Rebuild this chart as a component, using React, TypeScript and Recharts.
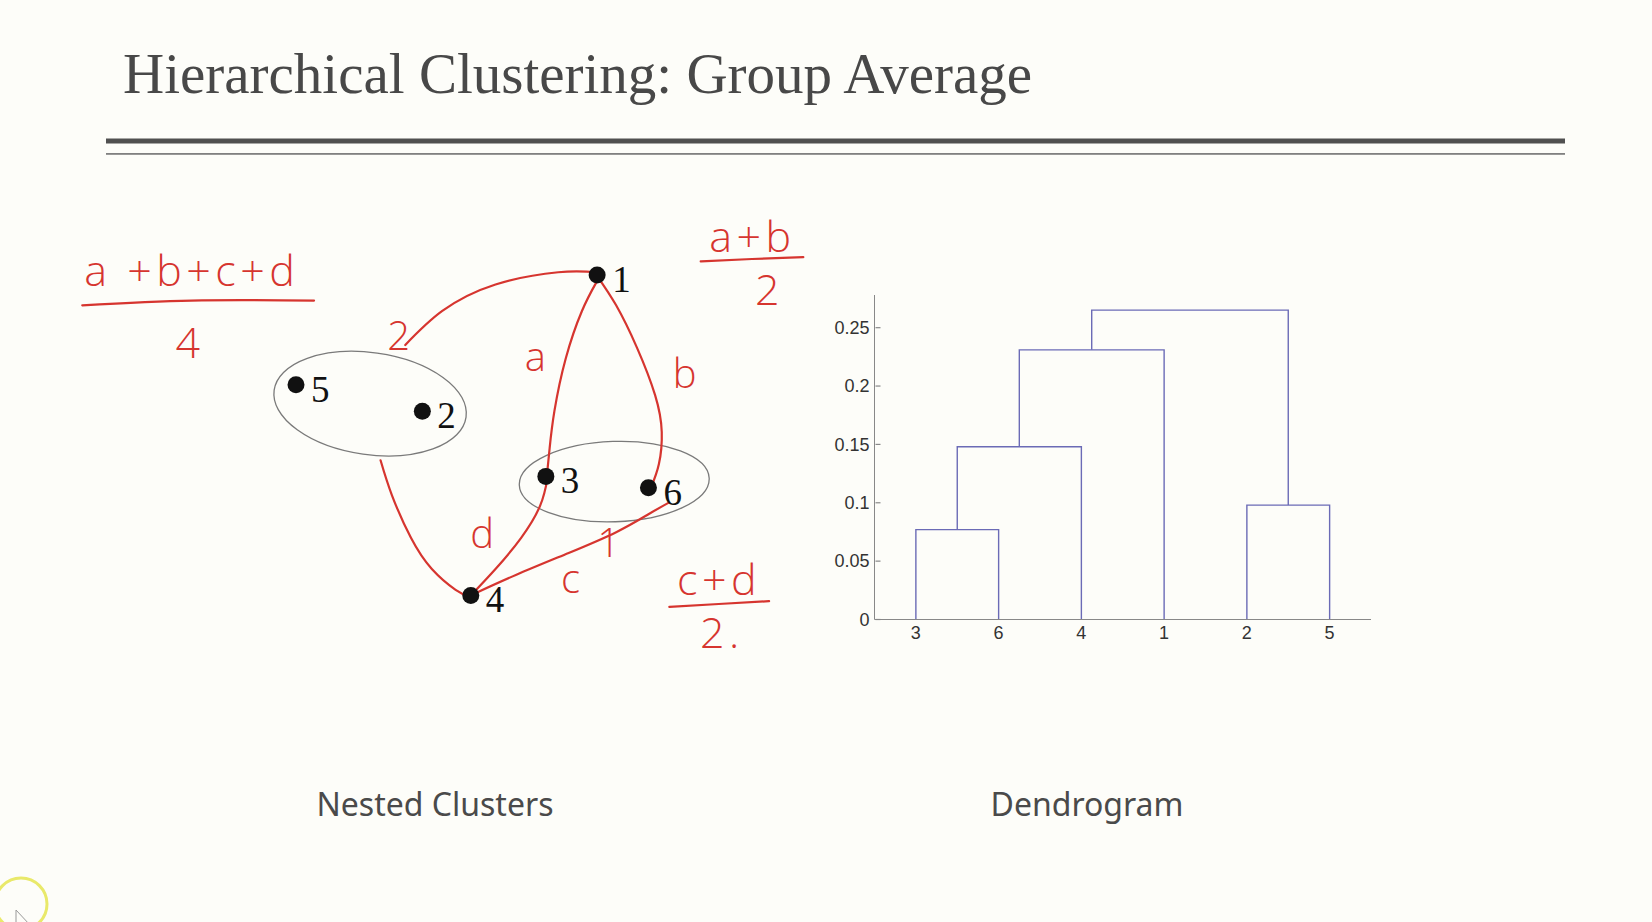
import React from 'react';
import { ComposedChart, LineChart, Line, Scatter, XAxis, YAxis, ReferenceArea } from 'recharts';

// ---- Dendrogram ----
const leafLabels = ['3', '6', '4', '1', '2', '5'];
// merge steps: children are leaf labels or earlier merges (m0, m1, ...)
const mergeLeft = ['3', 'm0', 'm1', '2', 'm2'];
const mergeRight = ['6', '4', '1', '5', 'm3'];
const mergeHeight = [0.077, 0.148, 0.231, 0.098, 0.265];
const yTicks = [0, 0.05, 0.1, 0.15, 0.2, 0.25];

// ---- Nested clusters ----
const pointIds = ['1', '2', '3', '4', '5', '6'];
const pointX = [0.397, 0.213, 0.343, 0.264, 0.08, 0.451];
const pointY = [0.53, 0.386, 0.317, 0.191, 0.414, 0.305];

// cluster ellipses as bounding boxes: {2,5} and {3,6}
const ellipseX1 = [0.056, 0.315];
const ellipseX2 = [0.26, 0.515];
const ellipseY1 = [0.34, 0.269];
const ellipseY2 = [0.448, 0.354];
const ellipseTilt = [8, -2];

// red hand-drawn links
const linkTwoX = [0.195, 0.234, 0.29, 0.356, 0.397];
const linkTwoY = [0.456, 0.492, 0.52, 0.533, 0.533];
const linkAX = [0.396, 0.381, 0.364, 0.352, 0.347, 0.344];
const linkAY = [0.522, 0.492, 0.442, 0.386, 0.347, 0.317];
const linkBX = [0.397, 0.417, 0.439, 0.458, 0.465, 0.462, 0.454];
const linkBY = [0.529, 0.498, 0.453, 0.403, 0.364, 0.33, 0.306];
const linkFourX = [0.169, 0.181, 0.201, 0.223, 0.248, 0.262];
const linkFourY = [0.334, 0.297, 0.252, 0.219, 0.197, 0.19];
const linkDX = [0.264, 0.29, 0.317, 0.337, 0.345];
const linkDY = [0.191, 0.219, 0.252, 0.286, 0.316];
const linkCX = [0.27, 0.312, 0.367, 0.417, 0.451, 0.472];
const linkCY = [0.194, 0.213, 0.236, 0.258, 0.277, 0.289];

// fraction bars
const barAllX = [-0.145, -0.03, 0.099];
const barAllY = [0.498, 0.503, 0.503];
const barABX = [0.506, 0.56, 0.614];
const barABY = [0.5445, 0.547, 0.549];
const barCDX = [0.473, 0.525, 0.578];
const barCDY = [0.179, 0.182, 0.185];

// handwritten notes (x = centre, y = baseline)
const fractionText = ['a +b+c+d', '4', 'a+b', '2', 'c+d', '2.'];
const fractionX = [-0.032, -0.034, 0.558, 0.576, 0.523, 0.526];
const fractionY = [0.518, 0.442, 0.554, 0.498, 0.192, 0.135];
const edgeText = ['2', 'a', 'b', 'd', '1', 'c'];
const edgeX = [0.188, 0.332, 0.489, 0.276, 0.409, 0.369];
const edgeY = [0.451, 0.428, 0.411, 0.241, 0.232, 0.194];

const RED = '#d6352f';
const BLUE = '#6b6bb6';
const HAND = "'Open Sans', 'Noto Sans', sans-serif";
const SANS = "'Liberation Sans', Arial, sans-serif";

const zip = (xs: number[], ys: number[]) => xs.map((x, i) => ({ x, y: ys[i] }));

function buildLinks() {
  const pos: Record<string, { x: number; y: number }> = {};
  leafLabels.forEach((l, i) => (pos[l] = { x: i, y: 0 }));
  return mergeLeft.map((l, i) => {
    const a = pos[l];
    const b = pos[mergeRight[i]];
    const h = mergeHeight[i];
    pos['m' + i] = { x: (a.x + b.x) / 2, y: h };
    return [
      { x: a.x, y: a.y },
      { x: a.x, y: h },
      { x: b.x, y: h },
      { x: b.x, y: b.y },
    ];
  });
}

const YTick = (props: any) => {
  const { x, y, payload } = props;
  return (
    <g>
      <text x={x} y={y} dy="0.35em" textAnchor="end" fill="#333" fontSize={18} fontFamily={SANS}>
        {payload.value}
      </text>
      <line x1={x + 6} x2={x + 11} y1={y} y2={y} stroke="#888" strokeWidth={1.2} />
    </g>
  );
};

function Dendrogram() {
  const links = buildLinks();
  return (
    <LineChart width={600} height={400} margin={{ top: 25, right: 29, bottom: 20.5, left: 14.5 }}>
      <XAxis
        type="number"
        dataKey="x"
        domain={[-0.5, 5.5]}
        ticks={[0, 1, 2, 3, 4, 5]}
        allowDataOverflow
        tickFormatter={(v: number) => leafLabels[v]}
        tickSize={0}
        tickMargin={7}
        height={30}
        stroke="#888"
        tick={{ fill: '#333', fontSize: 18, fontFamily: SANS }}
      />
      <YAxis
        type="number"
        dataKey="y"
        domain={[0, 0.278]}
        ticks={yTicks}
        allowDataOverflow
        width={60}
        tickSize={0}
        tickMargin={5}
        stroke="#888"
        tick={<YTick />}
      />
      {links.map((pts, i) => (
        <Line
          key={i}
          data={pts}
          dataKey="y"
          type="linear"
          stroke={BLUE}
          strokeWidth={1.4}
          dot={false}
          activeDot={false}
          isAnimationActive={false}
        />
      ))}
    </LineChart>
  );
}

const PointShape = (props: any) => {
  const { cx, cy, payload } = props;
  return (
    <g>
      <circle cx={cx} cy={cy} r={8.5} fill="#111" />
      <text x={cx + 15} y={cy + 17} fontSize={37} fill="#111" fontFamily="'Liberation Serif', 'Times New Roman', serif">
        {payload.id}
      </text>
    </g>
  );
};

const noteShape = (size: number, spacing: number) => (props: any) => {
  const { cx, cy, payload } = props;
  return (
    <text
      x={cx + spacing / 2}
      y={cy}
      textAnchor="middle"
      fontSize={size}
      fontWeight={300}
      letterSpacing={spacing}
      fill={RED}
      fontFamily={HAND}
    >
      {payload.text}
    </text>
  );
};

const ellipseShape = (tilt: number) => (props: any) => {
  const { x, y, width, height } = props;
  const cx = x + width / 2;
  const cy = y + height / 2;
  return (
    <ellipse
      cx={cx}
      cy={cy}
      rx={width / 2}
      ry={height / 2}
      fill="none"
      stroke="#7a7a7a"
      strokeWidth={1.3}
      transform={`rotate(${tilt} ${cx} ${cy})`}
    />
  );
};

function NestedClusters() {
  const points = pointIds.map((id, i) => ({ id, x: pointX[i], y: pointY[i] }));
  const redLinks = [
    zip(linkTwoX, linkTwoY),
    zip(linkAX, linkAY),
    zip(linkBX, linkBY),
    zip(linkFourX, linkFourY),
    zip(linkDX, linkDY),
    zip(linkCX, linkCY),
    zip(barAllX, barAllY),
    zip(barABX, barABY),
    zip(barCDX, barCDY),
  ];
  const fractions = fractionText.map((text, i) => ({ text, x: fractionX[i], y: fractionY[i] }));
  const edges = edgeText.map((text, i) => ({ text, x: edgeX[i], y: edgeY[i] }));
  return (
    <ComposedChart width={779} height={586} margin={{ top: 0, right: 0, bottom: 0, left: 0 }} style={{ overflow: 'visible' }}>
      <XAxis type="number" dataKey="x" domain={[-0.2, 0.62]} allowDataOverflow hide />
      <YAxis type="number" dataKey="y" domain={[0, 0.62]} allowDataOverflow hide />
      {ellipseX1.map((x1, i) => (
        <ReferenceArea
          key={'e' + i}
          x1={x1}
          x2={ellipseX2[i]}
          y1={ellipseY1[i]}
          y2={ellipseY2[i]}
          ifOverflow="visible"
          shape={ellipseShape(ellipseTilt[i])}
        />
      ))}
      {redLinks.map((pts, i) => (
        <Line
          key={'l' + i}
          data={pts}
          dataKey="y"
          type="natural"
          stroke={RED}
          strokeWidth={2.2}
          strokeLinecap="round"
          dot={false}
          activeDot={false}
          isAnimationActive={false}
        />
      ))}
      <Scatter data={fractions} dataKey="y" shape={noteShape(43, 4.5)} isAnimationActive={false} />
      <Scatter data={edges} dataKey="y" shape={noteShape(40, 0)} isAnimationActive={false} />
      <Scatter data={points} dataKey="y" shape={PointShape} isAnimationActive={false} />
    </ComposedChart>
  );
}

export default function App() {
  return (
    <div style={{ position: 'absolute', left: 0, top: 0, width: 1652, height: 922, background: '#fdfdf9', overflow: 'hidden' }}>
      <svg width={1652} height={922} style={{ position: 'absolute', left: 0, top: 0 }}>
        <text x={123} y={93} fontSize={57} fill="#484848" fontFamily="'Liberation Serif', 'Times New Roman', serif">
          Hierarchical Clustering: Group Average
        </text>
        <rect x={106} y={138.5} width={1459} height={5} fill="#505050" />
        <rect x={106} y={153} width={1459} height={1.8} fill="#808080" />
        <text x={435} y={816} fontSize={32} fill="#4a4a4a" textAnchor="middle" fontFamily="'Noto Sans', 'Open Sans', sans-serif">
          Nested Clusters
        </text>
        <text x={1087} y={816} fontSize={32} fill="#4a4a4a" textAnchor="middle" fontFamily="'Noto Sans', 'Open Sans', sans-serif">
          Dendrogram
        </text>
        <circle cx={21} cy={904} r={26} fill="none" stroke="#e9e96a" strokeWidth={3} />
        <path d="M16 910 L16 930 L30 925 Z" fill="none" stroke="#999" strokeWidth={1} />
      </svg>
      <div style={{ position: 'absolute', left: 30, top: 190 }}>
        <NestedClusters />
      </div>
      <div style={{ position: 'absolute', left: 800, top: 270 }}>
        <Dendrogram />
      </div>
    </div>
  );
}
